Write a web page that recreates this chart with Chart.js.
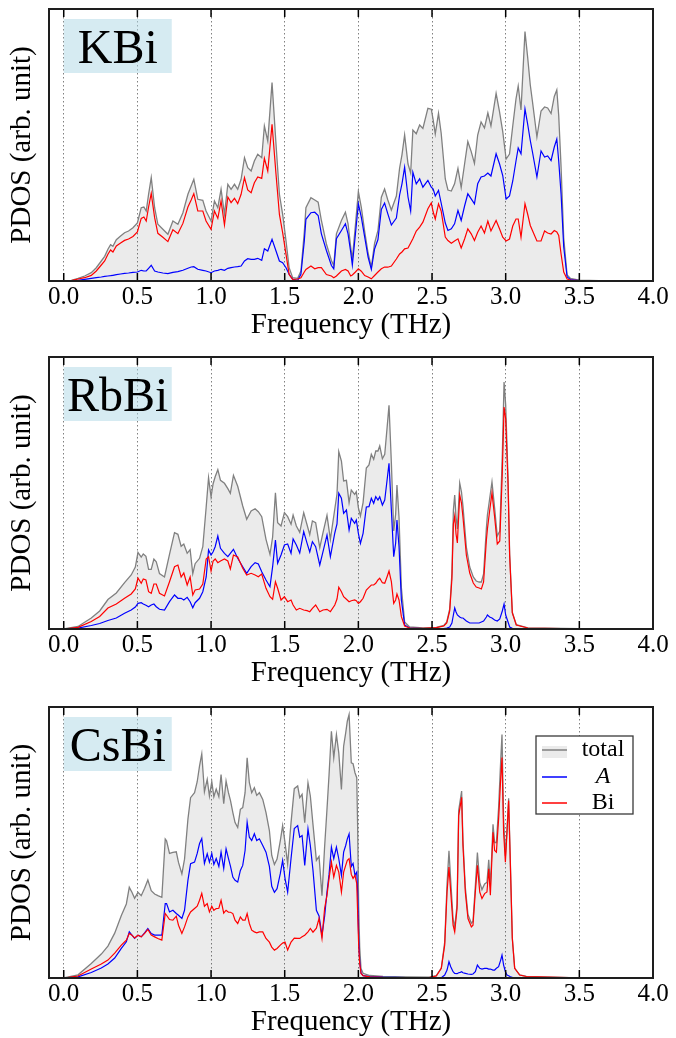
<!DOCTYPE html>
<html>
<head>
<meta charset="utf-8">
<title>PDOS</title>
<script src="https://cdn.jsdelivr.net/npm/chart.js@4.4.1/dist/chart.umd.min.js"></script>
<style>
  html, body { margin: 0; padding: 0; background: #fff; overflow: hidden; }
  body { width: 676px; height: 1038px; position: relative; }
  canvas { position: absolute; left: 0; }
</style>
</head>
<body>
<canvas id="kbiChart" width="676" height="348" style="top:0px"></canvas>
<canvas id="rbbiChart" width="676" height="348" style="top:348px"></canvas>
<canvas id="csbiChart" width="676" height="348" style="top:697px"></canvas>
<script>
// ---------- x ticks ----------
const freqTicks = [0.0, 0.5, 1.0, 1.5, 2.0, 2.5, 3.0, 3.5, 4.0];

// ---------- KBi ----------
const kbiFreq = [
  0.000, 0.052, 0.097, 0.142, 0.187, 0.221, 0.255, 0.278, 0.300, 0.318,
  0.334, 0.357, 0.386, 0.413, 0.440, 0.470, 0.500, 0.526, 0.544, 0.560,
  0.576, 0.594, 0.617, 0.639, 0.673, 0.707, 0.741, 0.775, 0.809, 0.843,
  0.865, 0.883, 0.910, 0.944, 0.966, 1.000, 1.023, 1.046, 1.068, 1.091,
  1.114, 1.136, 1.159, 1.181, 1.204, 1.227, 1.249, 1.272, 1.294, 1.317,
  1.344, 1.362, 1.385, 1.414, 1.441, 1.464, 1.486, 1.509, 1.530, 1.554,
  1.588, 1.610, 1.633, 1.644, 1.678, 1.704, 1.727, 1.749, 1.783, 1.817,
  1.833, 1.851, 1.885, 1.912, 1.930, 1.948, 1.959, 1.980, 2.000, 2.020,
  2.043, 2.066, 2.088, 2.110, 2.133, 2.156, 2.178, 2.200, 2.224, 2.258,
  2.280, 2.296, 2.314, 2.337, 2.355, 2.370, 2.393, 2.416, 2.438, 2.472,
  2.495, 2.508, 2.522, 2.544, 2.562, 2.590, 2.608, 2.631, 2.653, 2.676,
  2.698, 2.721, 2.743, 2.766, 2.788, 2.810, 2.833, 2.856, 2.879, 2.900,
  2.935, 2.958, 2.980, 3.003, 3.026, 3.048, 3.070, 3.085, 3.104, 3.131,
  3.149, 3.167, 3.183, 3.212, 3.240, 3.264, 3.285, 3.308, 3.330, 3.347,
  3.360, 3.376, 3.394, 3.417, 3.440, 3.500, 3.700, 4.000
];
const kbiA = [
  0, 0.2, 0.7, 1.7, 2.7, 3.3, 4, 4.7, 5, 5.3,
  5.7, 6.3, 7, 7.7, 8, 8.7, 9, 10.7, 10, 10,
  12.7, 15.7, 10, 9, 8, 7.3, 8.7, 9.3, 10.7, 12.7,
  14, 14.3, 11.7, 10.7, 10, 8.3, 10, 10.7, 11.7, 10.7,
  12.7, 13.3, 14, 14.3, 15, 20, 22.3, 21.7, 21.7, 22.7,
  20.7, 32.3, 30, 41.7, 30, 20, 18.3, 13.3, 6.7, 1.7,
  0.7, 6.7, 40, 61.7, 68.3, 68.8, 65.5, 47.2, 30.5, 15.5,
  12.2, 42.2, 50.5, 57.2, 47.2, 29, 16, 47, 77.2, 63.8,
  43.8, 24, 11.6, 32, 41.5, 71.5, 78, 67.2, 56, 63,
  86, 97.2, 113.8, 84, 70, 108.8, 97.2, 102.2, 93.8, 100.5,
  93.8, 92, 85, 90.5, 78, 58, 50.5, 52.2, 57.2, 70.5,
  60.5, 75, 87.2, 82.2, 77.2, 97.2, 104, 105, 108, 105,
  127.2, 117.2, 105.5, 82, 85, 100, 120, 133, 127.2, 172.2,
  157, 140.5, 128, 104, 130, 124, 125, 120.5, 134, 142,
  120, 87, 34, 4, 1.5, 0.5, 0.1, 0
];
const kbiBi = [
  0, 0.5, 2, 3.3, 5.6, 10, 16, 20, 26.7, 31,
  29, 35, 38, 40.6, 42, 44.6, 49, 62.6, 64, 60,
  74, 87.7, 63.3, 47.7, 43.7, 39.4, 51.3, 47.4, 57.6, 74,
  81, 87.4, 70, 70, 60, 51.7, 70, 62.6, 80, 56,
  84, 78.4, 82.7, 77.4, 86.7, 103.3, 91, 88.3, 98.3, 104,
  102.6, 122.7, 110, 156.7, 106.7, 66.7, 48.4, 26.7, 6.6, 1.6,
  2, 3.3, 9, 11.6, 15, 12.2, 13.3, 13.3, 6.5, 5,
  3.3, 5, 10, 11.6, 10, 5, 6, 9, 12.2, 9.8,
  5.5, 4, 2.2, 5.5, 9, 12.3, 14, 13.8, 15, 22,
  27, 29, 32.2, 33, 38, 42.2, 50, 53.8, 58.8, 72.2,
  78, 69, 62, 77.2, 70, 44, 40.5, 37.8, 40, 42.2,
  33, 42, 52.2, 47.2, 40.5, 48.8, 55, 48, 60, 50,
  60.5, 52.2, 43.8, 40, 42, 55, 62, 62, 43.8, 77.2,
  67, 55.5, 50, 40, 40, 50, 48, 47, 50.5, 49,
  45.5, 27, 9, 2, 1, 0.3, 0.05, 0
];

// ---------- RbBi ----------
const rbbiFreq = [
  0.000, 0.097, 0.187, 0.244, 0.300, 0.357, 0.413, 0.458, 0.486, 0.504,
  0.526, 0.540, 0.558, 0.576, 0.594, 0.612, 0.628, 0.650, 0.684, 0.718,
  0.752, 0.775, 0.797, 0.815, 0.838, 0.858, 0.876, 0.892, 0.922, 0.944,
  0.967, 0.983, 1.000, 1.014, 1.028, 1.046, 1.064, 1.091, 1.114, 1.131,
  1.152, 1.181, 1.215, 1.242, 1.272, 1.299, 1.321, 1.344, 1.373, 1.400,
  1.418, 1.437, 1.452, 1.475, 1.498, 1.520, 1.543, 1.557, 1.579, 1.602,
  1.629, 1.652, 1.670, 1.688, 1.710, 1.738, 1.760, 1.787, 1.810, 1.840,
  1.855, 1.867, 1.885, 1.900, 1.919, 1.937, 1.952, 1.975, 1.986, 2.000,
  2.014, 2.032, 2.054, 2.072, 2.088, 2.104, 2.118, 2.133, 2.145, 2.163,
  2.179, 2.195, 2.208, 2.224, 2.240, 2.253, 2.262, 2.276, 2.292, 2.314,
  2.348, 2.440, 2.530, 2.580, 2.600, 2.620, 2.635, 2.645, 2.654, 2.663,
  2.672, 2.688, 2.700, 2.710, 2.733, 2.756, 2.780, 2.800, 2.820, 2.835,
  2.850, 2.869, 2.876, 2.891, 2.907, 2.925, 2.943, 2.960, 2.977, 2.989,
  3.000, 3.016, 3.027, 3.045, 3.072, 3.150, 3.500, 4.000
];
const rbbiA = [
  0, 0.8, 3.5, 5.5, 8.5, 11, 15.7, 19, 22, 25.7,
  26.3, 25, 23.7, 22.3, 24, 25, 22.3, 19.7, 19, 27.3,
  34, 30.7, 30.7, 29, 31.7, 27.3, 21.3, 26.3, 30.7, 37.3,
  52, 79, 74, 77.3, 82.3, 93, 80.7, 75.7, 72.3, 75.7,
  79.7, 70.7, 62.3, 55.7, 62.3, 66.3, 65, 57.3, 49, 42.3,
  62.3, 89, 65.7, 74, 84, 85, 75.7, 90, 84, 76,
  97.3, 85.7, 77, 87.3, 82.3, 64, 77.3, 94, 72.3, 96,
  105, 135.7, 130.7, 115.7, 119, 99, 110.7, 105.7, 109, 95.7,
  85.7, 95.7, 122, 122.3, 130.7, 125.7, 132.3, 129, 132.3, 124,
  129, 149, 165.7, 119, 72.3, 85.7, 109, 82.3, 29, 4,
  1, 0.5, 0.3, 0.5, 1, 2, 6, 14, 21, 17,
  14, 12, 11, 11, 8, 6, 6, 6, 6, 7,
  8, 12, 14, 12, 11, 9, 8, 10, 18, 25,
  14, 7, 2, 0.7, 0.3, 0.1, 0.05, 0
];
const rbbiBi = [
  0, 1.7, 7.5, 12.5, 21, 25, 30.7, 35, 40, 51,
  45.7, 50, 49, 37.3, 35.7, 45, 45, 35.7, 33, 47.3,
  62.3, 64, 52, 56, 44, 52, 34, 39, 40, 45,
  70, 72.3, 58, 68, 70, 66.3, 68, 70, 68, 60,
  74, 72, 60.7, 54, 55.7, 54, 52.3, 55, 40.7, 32.3,
  29.7, 47.3, 40.7, 29, 32.3, 27.3, 29, 24, 19, 20.7,
  19, 18.3, 17.3, 20.7, 24, 17.3, 19, 19.7, 17.3, 24,
  30, 41.7, 37.3, 32.3, 29.7, 27.3, 28.3, 29, 28.3, 25.7,
  27.3, 30.7, 39, 41.7, 44, 44, 45.7, 49, 50.7, 46.3,
  45.7, 52.3, 58, 47.3, 25.7, 29, 35, 29, 12.3, 3,
  1, 0.6, 1.3, 3, 6, 18, 50, 105, 113, 95,
  86, 134, 126, 112, 74, 56, 46, 42, 41, 40,
  47, 89, 100, 118, 136, 112, 85, 88, 156, 222,
  210, 145, 73, 16, 4, 1, 0.2, 0
];

// ---------- CsBi ----------
const csbiFreq = [
  0.000, 0.097, 0.187, 0.255, 0.300, 0.346, 0.391, 0.425, 0.445, 0.463,
  0.481, 0.504, 0.526, 0.549, 0.571, 0.594, 0.617, 0.639, 0.666, 0.689,
  0.698, 0.718, 0.741, 0.764, 0.779, 0.802, 0.820, 0.843, 0.861, 0.888,
  0.906, 0.922, 0.937, 0.955, 0.974, 0.989, 1.005, 1.019, 1.035, 1.053,
  1.068, 1.086, 1.102, 1.118, 1.132, 1.148, 1.163, 1.181, 1.199, 1.215,
  1.231, 1.245, 1.260, 1.276, 1.294, 1.310, 1.328, 1.351, 1.373, 1.396,
  1.412, 1.430, 1.448, 1.470, 1.486, 1.502, 1.520, 1.543, 1.565, 1.588,
  1.602, 1.618, 1.636, 1.658, 1.674, 1.692, 1.715, 1.733, 1.753, 1.771,
  1.787, 1.801, 1.817, 1.833, 1.851, 1.867, 1.885, 1.900, 1.914, 1.925,
  1.937, 1.952, 1.964, 1.977, 1.989, 1.995, 2.002, 2.009, 2.018, 2.032,
  2.077, 2.167, 2.326, 2.484, 2.529, 2.563, 2.586, 2.602, 2.615, 2.627,
  2.643, 2.654, 2.670, 2.681, 2.692, 2.701, 2.710, 2.726, 2.744, 2.767,
  2.778, 2.794, 2.808, 2.824, 2.839, 2.857, 2.873, 2.885, 2.896, 2.914,
  2.925, 2.937, 2.952, 2.966, 2.975, 2.986, 2.998, 3.009, 3.020, 3.032,
  3.045, 3.061, 3.095, 3.140, 3.500, 4.000
];
const csbiA = [
  0, 1.2, 5.5, 10, 14, 20, 29.7, 36.3, 46.3, 43,
  39.7, 43, 41.3, 45.3, 49.7, 44.7, 43, 43, 43, 74.7,
  74.7, 66.3, 68, 64.7, 63, 59.7, 68, 98, 114.7, 116.3,
  125, 135, 140, 115, 124.7, 116.3, 125, 114, 120, 112,
  126.3, 110, 129.7, 120, 112, 101.3, 98, 96.3, 108, 113,
  128, 156.3, 141.3, 138, 144.7, 138, 139.7, 133, 126.3, 112,
  92, 86, 89.7, 104.7, 118, 100, 86.3, 120, 150, 153,
  141.3, 143, 113, 149.7, 133, 108, 68, 62.3, 43, 62,
  86.3, 104, 131.3, 119.7, 131.3, 119.7, 103, 126.3, 133, 139.7,
  144.7, 112, 115, 103, 106.3, 86.3, 39.7, 16.3, 5, 2.3,
  1.3, 0.8, 0.5, 0.3, 0.3, 0.3, 3, 8, 16.3, 11.3,
  6.3, 4.7, 4.3, 5.3, 5.7, 6.3, 5.3, 4.7, 4, 3.7,
  4, 6.3, 13, 9.7, 9, 9.7, 9.7, 9, 9, 8,
  8, 9.7, 11.3, 18, 23, 13, 6.3, 3, 2.3, 1.3,
  0.7, 0.3, 0.1, 0.05, 0.02, 0
];
const csbiBi = [
  0, 2, 9, 14, 18, 25, 33, 38, 44.7, 43,
  40.3, 43, 41.3, 44.7, 48.7, 43, 41.3, 39.7, 38, 64.7,
  63, 58.7, 58, 62, 53, 44.7, 51.3, 61.3, 66.3, 69.7,
  72, 78, 85, 72, 74.7, 66.3, 72, 68, 69.7, 70,
  78, 65, 68, 66, 66, 64.7, 58, 54.7, 61.3, 58,
  58, 64.7, 54.7, 48, 46.3, 45.3, 46.3, 46.3, 39.7, 36,
  31, 28, 29.7, 33, 35, 36, 28, 36, 40, 39.7,
  39.7, 41.3, 43, 46.3, 49.7, 46, 50, 59.7, 39.7, 70,
  83, 100, 116.3, 101.3, 113, 106.3, 86.3, 106.3, 113, 118,
  119.7, 104, 100, 103, 94.7, 66, 33, 14.7, 4.5, 2.4,
  1.2, 0.7, 0.5, 0.6, 2, 9.7, 33, 86.3, 111.3, 86.3,
  53, 46.3, 69.7, 163, 173, 181.3, 133, 86.3, 59.7, 51.3,
  53, 86.3, 113, 86.3, 79.7, 84.7, 86.3, 109.7, 83, 146.3,
  128, 126.3, 159.7, 199.7, 221.3, 146.3, 116.3, 146.3, 178, 113,
  39.7, 9.7, 3, 1.5, 0.2, 0
];

// ---------- look ----------
const FONT = '"Liberation Serif", "Times New Roman", serif';
Chart.defaults.font.family = FONT;
Chart.defaults.color = '#000';

function toPoints(freq, vals) {
  return freq.map((f, i) => ({ x: f, y: vals[i] }));
}

// frame + inward ticks on top and bottom
const framePlugin = {
  id: 'frame',
  afterDatasetsDraw(chart) {
    const { ctx, chartArea: a, scales: { x } } = chart;
    ctx.save();
    ctx.strokeStyle = '#000';
    ctx.lineWidth = 1.5;
    x.ticks.forEach(t => {
      const px = x.getPixelForValue(t.value);
      ctx.beginPath();
      ctx.moveTo(px, a.bottom);
      ctx.lineTo(px, a.bottom - 8);
      ctx.moveTo(px, a.top);
      ctx.lineTo(px, a.top + 8);
      ctx.stroke();
    });
    ctx.strokeStyle = '#1e1e1e';
    ctx.lineWidth = 2;
    ctx.strokeRect(a.left, a.top, a.right - a.left, a.bottom - a.top);
    ctx.restore();
  }
};

// compound name in a light blue box
const namePlugin = {
  id: 'compoundName',
  afterDatasetsDraw(chart, args, opts) {
    const { ctx, chartArea: a, scales: { x } } = chart;
    const left = x.getPixelForValue(0);
    const top = a.top + 10;
    const w = 108, h = 54;
    ctx.save();
    ctx.fillStyle = 'rgba(173, 216, 230, 0.5)';
    ctx.fillRect(left, top, w, h);
    ctx.fillStyle = '#000';
    ctx.font = '48px ' + FONT;
    ctx.textAlign = 'center';
    ctx.textBaseline = 'alphabetic';
    ctx.fillText(opts.text, left + w / 2, top + 43.5);
    ctx.restore();
  }
};

// legend box (only on the last panel)
const pdosLegend = {
  id: 'pdosLegend',
  afterDraw(chart, args, opts) {
    if (!opts.show) return;
    const { ctx, chartArea: a } = chart;
    const w = 97, h = 78;
    const left = a.right - 20 - w;
    const top = a.top + 29;
    const rows = [14, 41, 67];
    ctx.save();
    ctx.fillStyle = '#fff';
    ctx.fillRect(left, top, w, h);
    ctx.strokeStyle = '#3a3a3a';
    ctx.lineWidth = 1.3;
    ctx.strokeRect(left, top, w, h);
    chart.data.datasets.forEach((ds, i) => {
      const y = top + rows[i];
      if (ds.fill) {
        ctx.fillStyle = ds.backgroundColor;
        ctx.fillRect(left + 6, y - 4, 25, 12);
      }
      ctx.strokeStyle = ds.borderColor;
      ctx.lineWidth = 1.5;
      ctx.beginPath();
      ctx.moveTo(left + 6, y);
      ctx.lineTo(left + 31, y);
      ctx.stroke();
      ctx.fillStyle = '#000';
      ctx.font = (ds.italic ? 'italic ' : '') + '24px ' + FONT;
      ctx.textAlign = 'center';
      ctx.textBaseline = 'middle';
      ctx.fillText(ds.label, left + 67, y);
    });
    ctx.restore();
  }
};

function makeChart(id, freq, aVals, biVals, name, padTop, showLegend) {
  const total = aVals.map((v, i) => v + biVals[i]);
  const ctx = document.getElementById(id).getContext('2d');
  return new Chart(ctx, {
    type: 'line',
    data: {
      datasets: [{
        label: 'total',
        data: toPoints(freq, total),
        borderColor: '#808080',
        backgroundColor: 'rgba(0, 0, 0, 0.08)',
        fill: 'origin',
        borderWidth: 1.3,
        pointRadius: 0,
        order: 3
      }, {
        label: 'A',
        italic: true,
        data: toPoints(freq, aVals),
        borderColor: '#0000ff',
        borderWidth: 1.2,
        pointRadius: 0,
        fill: false,
        order: 2
      }, {
        label: 'Bi',
        data: toPoints(freq, biVals),
        borderColor: '#ff0000',
        borderWidth: 1.2,
        pointRadius: 0,
        fill: false,
        order: 1
      }]
    },
    options: {
      responsive: false,
      animation: false,
      devicePixelRatio: 1,
      layout: { padding: { top: padTop, right: 23, left: 0, bottom: 0 } },
      scales: {
        x: {
          type: 'linear',
          min: -0.1,
          max: 4.0,
          afterBuildTicks: s => { s.ticks = freqTicks.map(v => ({ value: v })); },
          afterFit: s => { s.height = 67; },
          ticks: {
            callback: v => Number(v).toFixed(1),
            font: { size: 25 },
            padding: 1,
            maxRotation: 0,
            autoSkip: false
          },
          grid: { color: '#808080', lineWidth: 1, drawTicks: false },
          border: { display: false, dash: [1.5, 2.5] },
          title: {
            display: true,
            text: 'Frequency (THz)',
            font: { size: 29 },
            padding: { top: 0, bottom: 5 }
          }
        },
        y: {
          min: 0,
          max: 272,
          afterFit: s => { s.width = 49; },
          ticks: { display: false },
          grid: { display: false },
          border: { display: false },
          title: {
            display: true,
            text: 'PDOS (arb. unit)',
            font: { size: 29 },
            padding: { top: 5, bottom: 0 }
          }
        }
      },
      plugins: {
        legend: { display: false },
        tooltip: { enabled: false },
        compoundName: { text: name },
        pdosLegend: { show: showLegend }
      }
    },
    plugins: [framePlugin, namePlugin, pdosLegend]
  });
}

makeChart('kbiChart', kbiFreq, kbiA, kbiBi, 'KBi', 9, false);
makeChart('rbbiChart', rbbiFreq, rbbiA, rbbiBi, 'RbBi', 9, false);
makeChart('csbiChart', csbiFreq, csbiA, csbiBi, 'CsBi', 10, true);
</script>
</body>
</html>
